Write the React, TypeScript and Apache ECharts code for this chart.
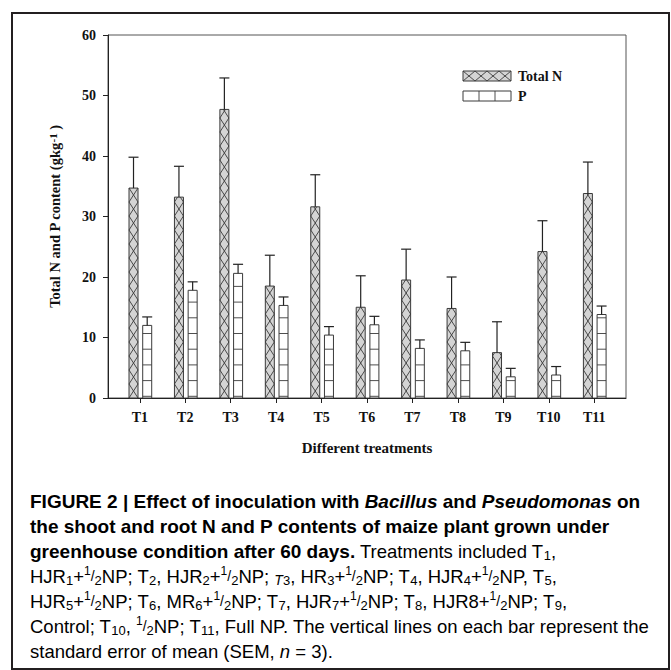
import React, { useEffect, useRef } from 'react';
import * as echarts from 'echarts';

const categories = ['T1', 'T2', 'T3', 'T4', 'T5', 'T6', 'T7', 'T8', 'T9', 'T10', 'T11'];
const totalN = [34.7, 33.2, 47.7, 18.5, 31.6, 15.0, 19.5, 14.8, 7.5, 24.2, 33.8];
const totalNSem = [5.1, 5.1, 5.2, 5.1, 5.3, 5.2, 5.1, 5.2, 5.1, 5.1, 5.2];
const phosphorus = [12.0, 17.8, 20.6, 15.3, 10.4, 12.1, 8.2, 7.8, 3.5, 3.8, 13.8];
const phosphorusSem = [1.4, 1.4, 1.5, 1.4, 1.4, 1.4, 1.4, 1.4, 1.4, 1.4, 1.4];
const yMin = 0;
const yMax = 60;
const yStep = 10;

const SERIF = "'Liberation Serif', 'Times New Roman', serif";
const SANS = "'Liberation Sans', Arial, sans-serif";

type Seg = [string, string];
const half: Seg[] = [['sup', '1'], ['sl', '/'], ['sub', '2']];

const captionLines: Seg[][] = [
  [['b', 'FIGURE 2 | Effect of inoculation with '], ['bi', 'Bacillus'], ['b', ' and '], ['bi', 'Pseudomonas'], ['b', ' on']],
  [['b', 'the shoot and root N and P contents of maize plant grown under']],
  [['b', 'greenhouse condition after 60 days.'], ['r', ' Treatments included T'], ['sub', '1'], ['r', ',']],
  [
    ['r', 'HJR'], ['sub', '1'], ['r', '+'], ...half, ['r', 'NP; T'], ['sub', '2'], ['r', ', HJR'], ['sub', '2'], ['r', '+'], ...half,
    ['r', 'NP; '], ['smi', 'T'], ['sub', '3'], ['r', ', HR'], ['sub', '3'], ['r', '+'], ...half, ['r', 'NP; T'], ['sub', '4'],
    ['r', ', HJR'], ['sub', '4'], ['r', '+'], ...half, ['r', 'NP, T'], ['sub', '5'], ['r', ','],
  ],
  [
    ['r', 'HJR'], ['sub', '5'], ['r', '+'], ...half, ['r', 'NP; T'], ['sub', '6'], ['r', ', MR'], ['sub', '6'], ['r', '+'], ...half,
    ['r', 'NP; T'], ['sub', '7'], ['r', ', HJR'], ['sub', '7'], ['r', '+'], ...half, ['r', 'NP; T'], ['sub', '8'], ['r', ', HJR8+'], ...half,
    ['r', 'NP; T'], ['sub', '9'], ['r', ','],
  ],
  [
    ['r', 'Control; T'], ['sub', '10'], ['r', ', '], ...half, ['r', 'NP; T'], ['sub', '11'],
    ['r', ', Full NP. The vertical lines on each bar represent the'],
  ],
  [['r', 'standard error of mean (SEM, '], ['ri', 'n'], ['r', ' = 3).']],
];

const BOLD_COLOR = '#231f20';
const REG_COLOR = '#404040';
const captionRich: any = {
  b: { fontFamily: SANS, fontWeight: 'bold', fontSize: 19, lineHeight: 22, color: BOLD_COLOR },
  bi: { fontFamily: SANS, fontWeight: 'bold', fontStyle: 'italic', fontSize: 19, lineHeight: 22, color: BOLD_COLOR },
  r: { fontFamily: SANS, fontSize: 18.5, lineHeight: 22, color: REG_COLOR },
  ri: { fontFamily: SANS, fontStyle: 'italic', fontSize: 18.5, lineHeight: 22, color: REG_COLOR },
  smi: { fontFamily: SANS, fontStyle: 'italic', fontSize: 14, lineHeight: 15, verticalAlign: 'bottom', color: REG_COLOR },
  sub: { fontFamily: SANS, fontSize: 13, lineHeight: 13, verticalAlign: 'bottom', color: REG_COLOR },
  sup: { fontFamily: SANS, fontSize: 12, lineHeight: 12, verticalAlign: 'top', color: REG_COLOR },
  sl: { fontFamily: SANS, fontSize: 14, lineHeight: 22, color: REG_COLOR },
};

function makeRender(kind: 'N' | 'P') {
  return (params: any, api: any) => {
    const xv = api.value(0);
    const v = api.value(1);
    const e = api.value(2);
    const base = api.coord([xv, 0]);
    const top = api.coord([xv, v]);
    const errTop = api.coord([xv, v + e]);
    const w = 9;
    const cx = base[0] + (kind === 'N' ? -6.3 : 7.4);
    const x0 = cx - w / 2;
    const x1 = cx + w / 2;
    const yb = base[1];
    const yt = top[1];
    const stroke = '#3a3a3a';
    const children: any[] = [];
    children.push({
      type: 'rect',
      shape: { x: x0, y: yt, width: w, height: yb - yt },
      style: { fill: kind === 'N' ? '#d4d4d4' : '#ffffff', stroke: 'none' },
    });
    if (kind === 'N') {
      const cell = 14;
      for (let y = yb; y > yt + 0.5; y -= cell) {
        let y2 = y - cell;
        let frac = 1;
        if (y2 < yt) {
          frac = (y - yt) / cell;
          y2 = yt;
        }
        children.push({
          type: 'line',
          shape: { x1: x0, y1: y, x2: x0 + w * frac, y2 },
          style: { stroke, lineWidth: 0.9 },
        });
        children.push({
          type: 'line',
          shape: { x1: x1, y1: y, x2: x1 - w * frac, y2 },
          style: { stroke, lineWidth: 0.9 },
        });
      }
    } else {
      for (let y = yb - 1.7; y > yt + 1; y -= 15.7) {
        children.push({
          type: 'line',
          shape: { x1: x0, y1: y, x2: x1, y2: y },
          style: { stroke, lineWidth: 0.9 },
        });
      }
    }
    children.push({
      type: 'rect',
      shape: { x: x0, y: yt, width: w, height: yb - yt },
      style: { fill: 'none', stroke, lineWidth: 1 },
    });
    children.push({
      type: 'line',
      shape: { x1: cx, y1: yt, x2: cx, y2: errTop[1] },
      style: { stroke: '#222', lineWidth: 1.2 },
    });
    children.push({
      type: 'line',
      shape: { x1: cx - 5, y1: errTop[1], x2: cx + 5, y2: errTop[1] },
      style: { stroke: '#222', lineWidth: 1.2 },
    });
    return { type: 'group', children };
  };
}

export default function App() {
  const ref = useRef<HTMLDivElement>(null);
  useEffect(() => {
    document.body.style.margin = '0';
    if (!ref.current) return;
    const chart = echarts.init(ref.current, undefined, { renderer: 'svg' });
    const xPositions = categories.map((_, i) => i + 1);
    const nData = totalN.map((v, i) => [i + 1, v, totalNSem[i]]);
    const pData = phosphorus.map((v, i) => [i + 1, v, phosphorusSem[i]]);

    const legendCells: any[] = [];
    for (let k = 0; k < 4; k++) {
      legendCells.push({ type: 'line', shape: { x1: 463 + 12 * k, y1: 81, x2: 475 + 12 * k, y2: 71 }, style: { stroke: '#3a3a3a', lineWidth: 0.9 } });
      legendCells.push({ type: 'line', shape: { x1: 463 + 12 * k, y1: 71, x2: 475 + 12 * k, y2: 81 }, style: { stroke: '#3a3a3a', lineWidth: 0.9 } });
    }

    const option: any = {
      animation: false,
      backgroundColor: '#ffffff',
      grid: {
        left: 108, top: 35, width: 518, height: 363,
        show: true, borderColor: '#555', borderWidth: 1, backgroundColor: 'transparent',
      },
      xAxis: {
        type: 'value', min: 0.3, max: 11.7,
        axisLine: { show: true, onZero: false, lineStyle: { color: '#222', width: 1 } },
        axisTick: { show: true, length: 5, customValues: xPositions, lineStyle: { color: '#222' } },
        axisLabel: {
          customValues: xPositions,
          formatter: (val: number) => categories[Math.round(val) - 1] ?? '',
          margin: 12, fontFamily: SERIF, fontWeight: 'bold', fontSize: 14, color: '#111',
        },
        splitLine: { show: false },
        name: 'Different treatments', nameLocation: 'middle', nameGap: 42,
        nameTextStyle: { fontFamily: SERIF, fontWeight: 'bold', fontSize: 15, color: '#111' },
      },
      yAxis: {
        type: 'value', min: yMin, max: yMax, interval: yStep,
        axisLine: { show: true, lineStyle: { color: '#222', width: 1 } },
        axisTick: { show: true, length: 5, lineStyle: { color: '#222' } },
        axisLabel: { margin: 12, fontFamily: SERIF, fontWeight: 'bold', fontSize: 14, color: '#111' },
        splitLine: { show: false },
        name: 'Total N and P content (gkg{sup|-1} )', nameLocation: 'middle', nameGap: 46, nameRotate: 90,
        nameTextStyle: {
          fontFamily: SERIF, fontWeight: 'bold', fontSize: 14.5, color: '#111',
          rich: { sup: { fontFamily: SERIF, fontWeight: 'bold', fontSize: 11, color: '#111', verticalAlign: 'top', lineHeight: 11 } },
        },
      },
      series: [
        { type: 'custom', name: 'Total N', data: nData, encode: { x: 0, y: 1 }, renderItem: makeRender('N'), clip: false },
        { type: 'custom', name: 'P', data: pData, encode: { x: 0, y: 1 }, renderItem: makeRender('P'), clip: false },
      ],
      graphic: [
        { type: 'rect', silent: true, shape: { x: 12, y: 13, width: 657, height: 656 }, style: { fill: 'none', stroke: '#231f20', lineWidth: 2 } },
        { type: 'rect', shape: { x: 463, y: 71, width: 48, height: 10 }, style: { fill: '#d4d4d4', stroke: 'none' } },
        ...legendCells,
        { type: 'rect', shape: { x: 463, y: 71, width: 48, height: 10 }, style: { fill: 'none', stroke: '#3a3a3a', lineWidth: 1 } },
        { type: 'rect', shape: { x: 463, y: 91, width: 48, height: 10 }, style: { fill: '#fff', stroke: '#3a3a3a', lineWidth: 1 } },
        { type: 'line', shape: { x1: 479, y1: 91, x2: 479, y2: 101 }, style: { stroke: '#3a3a3a', lineWidth: 0.9 } },
        { type: 'line', shape: { x1: 495, y1: 91, x2: 495, y2: 101 }, style: { stroke: '#3a3a3a', lineWidth: 0.9 } },
        { type: 'text', x: 518, y: 76, style: { text: 'Total N', fontFamily: SERIF, fontWeight: 'bold', fontSize: 14, fill: '#111', verticalAlign: 'middle' } },
        { type: 'text', x: 518, y: 96, style: { text: 'P', fontFamily: SERIF, fontWeight: 'bold', fontSize: 14, fill: '#111', verticalAlign: 'middle' } },
        ...captionLines.map((segs, i) => ({
          type: 'text',
          x: 30,
          y: 501 + i * 25,
          style: {
            text: segs.map(([s, t]) => `{${s}|${t}}`).join(''),
            rich: captionRich,
            verticalAlign: 'middle',
            align: 'left',
          },
        })),
      ],
    };
    chart.setOption(option);
    return () => chart.dispose();
  }, []);
  return <div ref={ref} style={{ width: 671, height: 670 }} />;
}
